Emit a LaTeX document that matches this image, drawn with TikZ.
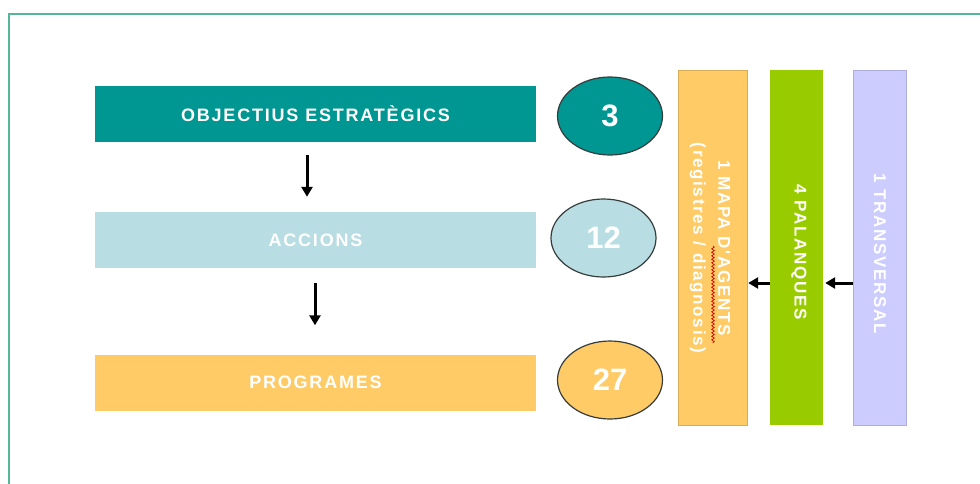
\documentclass[tikz,border=0pt]{standalone}
\usepackage{fontspec}
\setmainfont{Liberation Sans}
\newfontfamily\barfont{Liberation Sans}[LetterSpace=10]
\usetikzlibrary{arrows.meta,decorations.pathmorphing,shapes.geometric}
\definecolor{frameC}{RGB}{85,182,152}
\definecolor{tealC}{RGB}{0,150,145}
\definecolor{lblueC}{RGB}{184,221,226}
\definecolor{orangeC}{RGB}{254,203,102}
\definecolor{greenC}{RGB}{153,204,0}
\definecolor{lavC}{RGB}{204,204,255}
\definecolor{ringC}{RGB}{55,60,60}
\begin{document}
\begin{tikzpicture}[x=1pt,y=-1pt,
  hbar/.style={rectangle, inner sep=0pt, minimum width=441pt, minimum height=56pt,
     text=white, font=\barfont\bfseries\fontsize{18}{22}\selectfont},
  vbar/.style={rectangle, inner sep=0pt, minimum height=355pt},
  vtext/.style={rotate=-90, text=white, align=center, inner sep=0pt,
     font=\barfont\bfseries\fontsize{17}{25}\selectfont},
  count/.style={ellipse, draw=ringC, line width=1.2pt, minimum width=105pt,
     minimum height=78pt, inner sep=0pt, text=white,
     font=\bfseries\fontsize{31}{31}\selectfont},
  arr/.style={line width=3pt, -{Triangle[length=10pt,width=11pt]}}
]
\useasboundingbox (0,0) rectangle (980,483);
% outer frame
\draw[frameC, line width=2pt] (8.5,500) -- (8.5,13.5) -- (1000,13.5);

% horizontal bars
\node[hbar, fill=tealC]   (obj)  at (315.5,113.5) {OBJECTIUS ESTRATÈGICS};
\node[hbar, fill=lblueC]  (acc)  at (315.5,240)   {ACCIONS};
\node[hbar, fill=orangeC] (prog) at (315.5,382.5) {PROGRAMES};

% counts
\node[count, fill=tealC]   (n3)  at (610,116)   {3};
\node[count, fill=lblueC]  (n12) at (603.5,238) {12};
\node[count, fill=orangeC] (n27) at (610,380)   {27};

% vertical arrows
\draw[arr, shorten <=13pt, shorten >=15pt]
  ([xshift=-8.5pt]obj.south) -- ([xshift=-8.5pt]acc.north);
\draw[arr, shorten <=15pt, shorten >=29pt]
  ([xshift=-0.5pt]acc.south) -- ([xshift=-0.5pt]prog.north);

% vertical bars
\node[vbar, fill=orangeC, draw=orangeC!85!black, line width=0.4pt, minimum width=69pt] (map) at (712.5,247.5) {};
\node[vbar, fill=greenC, minimum width=53pt] (pal) at (796.5,247.5) {};
\node[vbar, fill=lavC, draw=lavC!85!black, line width=0.4pt, minimum width=53pt] (tra) at (879.5,247.5) {};

\node[vtext] (mapt) at (710,248) {1 MAPA D'AGENTS\\(registres / diagnosis)};
\node[vtext] (palt) at (799,252) {4 PALANQUES};
\node[vtext] (trat) at (880,254) {1 TRANSVERSAL};

% spell-check squiggle
\draw[red!85!black, line width=0.7pt, decorate,
  decoration={snake, amplitude=1.3pt, segment length=3.5pt}] (713,246) -- (713,343);

% horizontal arrows
\draw[arr, shorten >=1pt]
  ([yshift=-35.5pt]pal.west) -- ([yshift=-35.5pt]map.east);
\draw[arr, shorten >=2pt]
  ([yshift=-35.5pt]tra.west) -- ([yshift=-35.5pt]pal.east);
\end{tikzpicture}
\end{document}
